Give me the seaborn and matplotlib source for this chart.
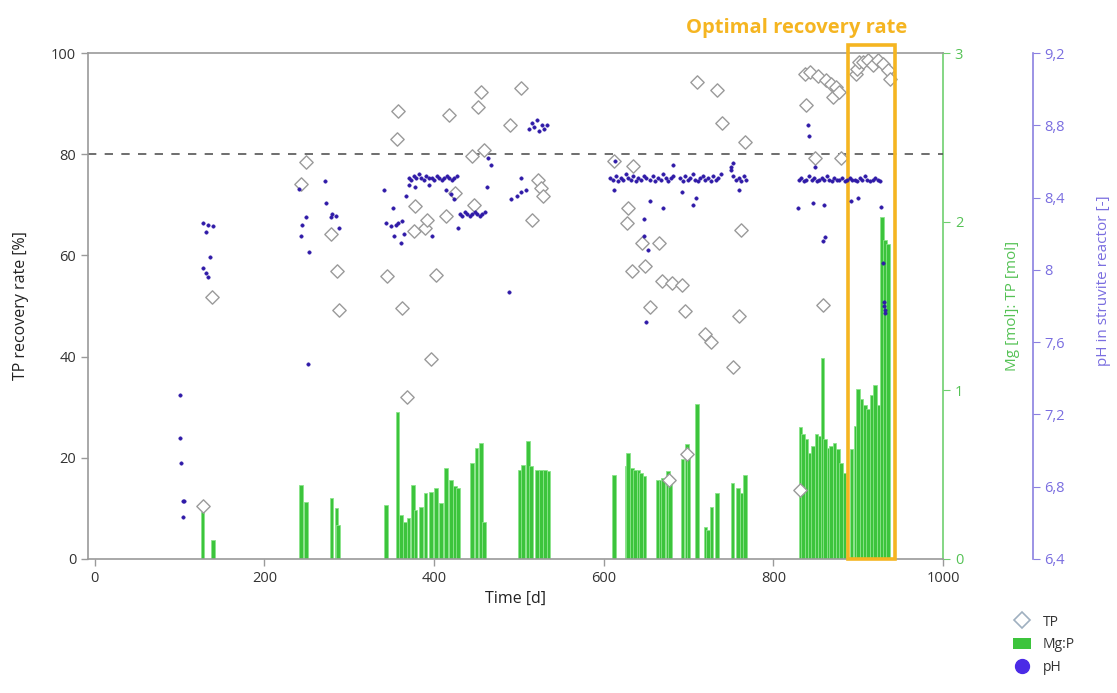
import numpy as np
import pandas as pd
import matplotlib
matplotlib.use("Agg")
import matplotlib.pyplot as plt
from matplotlib.patches import Rectangle
from matplotlib.lines import Line2D
from matplotlib.ticker import FixedLocator, FixedFormatter
import seaborn as sns

sns.set_style("white")
plt.rcParams['font.family'] = ['Open Sans', 'DejaVu Sans']

# TP recovery rate [%]
tp_day = [127, 138, 243, 249, 279, 285, 288, 344, 357, 356, 362, 368, 376, 378, 389, 392,
          396, 402, 414, 418, 425, 445, 447, 452, 455, 459, 489, 503, 515, 523, 526, 529,
          612, 627, 629, 633, 635, 645, 649, 655, 665, 669, 677, 680, 692, 696, 698, 710,
          720, 726, 733, 739, 752, 759, 762, 766, 832, 837, 839, 843, 849, 853, 859, 862,
          868, 870, 874, 877, 880, 897, 899, 901, 906, 912, 918, 923, 929, 935, 938]
tp_rate = [10.5, 51.7, 74.2, 78.5, 64.2, 56.9, 49.3, 55.9, 88.5, 83.1, 49.7, 32.0, 64.8, 69.8, 65.4, 67.0,
           39.6, 56.1, 67.8, 87.7, 72.4, 79.7, 70.0, 89.3, 92.2, 80.9, 85.7, 93.0, 67.0, 75.0, 73.4, 71.8,
           78.7, 66.4, 69.4, 56.9, 77.7, 62.4, 57.9, 49.9, 62.4, 54.9, 15.7, 54.5, 54.1, 49.1, 20.7, 94.2,
           44.5, 42.9, 92.6, 86.1, 38.0, 48.1, 65.0, 82.5, 13.7, 95.8, 89.7, 96.2, 79.3, 95.5, 50.1, 94.6,
           93.8, 91.3, 93.2, 92.2, 79.3, 95.8, 96.8, 98.2, 98.2, 98.6, 97.6, 98.6, 97.9, 96.6, 94.8]

# Mg [mol] : TP [mol]
mg_day = [127, 139, 243, 249, 279, 285, 287, 343, 357, 361, 366, 370, 375, 378, 385, 390,
          396, 402, 408, 414, 420, 425, 428, 445, 450, 455, 459, 501, 505, 511, 514, 521,
          526, 531, 535, 612, 627, 629, 633, 637, 641, 644, 648, 664, 667, 670, 676, 678,
          693, 698, 700, 710, 720, 723, 727, 734, 752, 758, 763, 767,
          832, 835, 839, 843, 847, 851, 855, 858, 861, 865, 868, 872, 876, 880, 884,
          892, 897, 900, 904, 908, 912, 916, 920, 924, 928, 932, 935]
mg_ratio = [0.28, 0.11, 0.44, 0.34, 0.36, 0.30, 0.20, 0.32, 0.87, 0.26, 0.22, 0.24, 0.44, 0.29, 0.31, 0.39,
            0.40, 0.42, 0.33, 0.54, 0.47, 0.43, 0.42, 0.57, 0.66, 0.69, 0.22, 0.53, 0.56, 0.70, 0.55, 0.53,
            0.53, 0.53, 0.52, 0.50, 0.55, 0.63, 0.54, 0.53, 0.53, 0.51, 0.49, 0.47, 0.47, 0.48, 0.52, 0.49,
            0.59, 0.68, 0.61, 0.92, 0.19, 0.17, 0.31, 0.39, 0.45, 0.42, 0.39, 0.50,
            0.78, 0.74, 0.71, 0.63, 0.67, 0.74, 0.73, 1.19, 0.71, 0.66, 0.67, 0.69, 0.65, 0.57, 0.51,
            0.65, 0.79, 1.01, 0.95, 0.91, 0.89, 0.97, 1.03, 0.91, 2.03, 1.89, 1.87]

# pH in struvite reactor
ph_day = [100, 101, 102, 104, 105, 104,
          127, 133, 139, 131, 136, 127, 131, 133,
          241, 249, 244, 243, 252, 271, 272, 280, 284, 278, 288, 251,
          341, 351, 343, 349, 355, 358, 362, 353, 361, 364, 367,
          370, 373, 376, 379, 382, 385, 388, 391, 394, 397, 400, 403, 406, 409, 412, 415, 418, 421, 424, 427,
          370, 378, 394, 414, 424, 420, 398,
          430, 433, 436, 439, 442, 445, 448, 451, 454, 457, 460, 428,
          464, 467, 462, 488, 491, 498, 502, 503, 508,
          512, 515, 518, 521, 524, 527, 530, 533,
          608, 611, 614, 617, 620, 623, 626, 629, 632, 635, 638, 641, 644, 647, 650,
          655, 658, 661, 664, 667, 670, 673, 676, 679, 682,
          690, 693, 696, 699, 702, 705, 708, 711, 714, 717, 720, 723, 726, 729, 732, 735, 738,
          750, 753, 756, 759, 762, 765, 768,
          612, 655, 670, 692, 705, 709, 647, 648, 652, 650, 760, 750, 753, 613, 682,
          830, 833, 836, 839, 842, 845, 848, 851, 854, 857, 860, 863, 866, 869, 872, 875, 878,
          881, 884, 887, 890, 893, 896, 899, 902, 905, 908, 911, 914, 917, 920, 923, 926,
          841, 842, 829, 847, 860, 859, 861, 892, 900, 927, 929, 931, 932, 930, 932, 849]
ph_val = [7.31, 7.07, 6.93, 6.72, 6.72, 6.63,
          8.26, 8.25, 8.24, 8.21, 8.07, 8.01, 7.98, 7.96,
          8.45, 8.29, 8.25, 8.19, 8.10, 8.49, 8.37, 8.31, 8.30, 8.29, 8.23, 7.48,
          8.44, 8.34, 8.26, 8.24, 8.25, 8.26, 8.27, 8.19, 8.15, 8.20, 8.41,
          8.51, 8.50, 8.52, 8.51, 8.53, 8.51, 8.50, 8.52, 8.51, 8.51, 8.50, 8.52, 8.51, 8.50, 8.51, 8.52, 8.51, 8.50, 8.51, 8.52,
          8.47, 8.46, 8.47, 8.44, 8.39, 8.42, 8.19,
          8.31, 8.30, 8.32, 8.31, 8.30, 8.31, 8.32, 8.31, 8.30, 8.31, 8.32, 8.23,
          8.62, 8.58, 8.46, 7.88, 8.39, 8.41, 8.43, 8.51, 8.44,
          8.78, 8.81, 8.79, 8.83, 8.77, 8.80, 8.78, 8.80,
          8.51, 8.50, 8.52, 8.49, 8.51, 8.50, 8.53, 8.51, 8.50, 8.52, 8.49, 8.51, 8.50, 8.52, 8.51,
          8.50, 8.52, 8.49, 8.51, 8.50, 8.53, 8.51, 8.49, 8.51, 8.52,
          8.51, 8.49, 8.52, 8.50, 8.51, 8.53, 8.50, 8.49, 8.51, 8.52, 8.50, 8.51, 8.49, 8.52, 8.50, 8.51, 8.53,
          8.55, 8.52, 8.50, 8.51, 8.49, 8.52, 8.50,
          8.44, 8.38, 8.34, 8.43, 8.36, 8.40, 8.28, 8.19, 8.11, 7.71, 8.44, 8.57, 8.59, 8.60, 8.58,
          8.50, 8.51, 8.49, 8.50, 8.52, 8.50, 8.51, 8.49, 8.50, 8.51, 8.50, 8.52, 8.50, 8.49, 8.51, 8.50, 8.50,
          8.51, 8.49, 8.50, 8.51, 8.50, 8.50, 8.49, 8.51, 8.50, 8.52, 8.50, 8.49, 8.50, 8.51, 8.50, 8.49,
          8.80, 8.74, 8.34, 8.37, 8.36, 8.16, 8.18, 8.38, 8.40, 8.35, 8.04, 7.80, 7.76, 7.82, 7.78, 8.57]

x_ticks = [0, 200, 400, 600, 800, 1000]
tp_ticks = [0, 20, 40, 60, 80, 100]
mg_ticks = [0, 1, 2, 3]
ph_ticks = [6.4, 6.8, 7.2, 7.6, 8.0, 8.4, 8.8, 9.2]
ph_labels = ["6,4", "6,8", "7,2", "7,6", "8", "8,4", "8,8", "9,2"]

optimal_start, optimal_end = 888, 944

tp_df = pd.DataFrame({"day": tp_day, "rate": tp_rate})
ph_df = pd.DataFrame({"day": ph_day, "ph": ph_val})

GREEN = "#3cc43c"
GREEN_AX = "#6fcf6f"
PURPLE = "#2f1aa8"
PURPLE_AX = "#8b80e0"
ORANGE = "#f5b521"

fig = plt.figure(figsize=(11.17, 6.93), dpi=100)
ax = fig.add_axes([0.0788, 0.1934, 0.7654, 0.7301])
ax2 = ax.twinx()
ax3 = ax.twinx()

# bars underneath, TP points above them, pH on top
ax2.set_zorder(1)
ax.set_zorder(2)
ax3.set_zorder(3)
ax.patch.set_visible(False)
ax3.patch.set_visible(False)

ax2.bar(mg_day, mg_ratio, width=4.4, color=GREEN, edgecolor="#8be48b", linewidth=0.6)
ax2.set_ylim(0, 3)

sns.scatterplot(data=tp_df, x="day", y="rate", ax=ax, marker="D", s=46,
                facecolor="white", edgecolor="#9a9a9a", linewidth=1.0, zorder=3)
ax.axhline(80, color="#555555", linestyle=(0, (5, 5)), linewidth=1.2, zorder=2)
ax.set_xlim(-8, 1000)
ax.set_ylim(0, 100)

sns.scatterplot(data=ph_df, x="day", y="ph", ax=ax3, s=6, color=PURPLE,
                edgecolor=PURPLE, linewidth=0.4)
ax3.set_ylim(6.4, 9.2)

# optimal window
ax.add_patch(Rectangle((optimal_start, 0), optimal_end - optimal_start, 101.5,
                       fill=False, edgecolor=ORANGE, linewidth=2.6, clip_on=False, zorder=5))
fig.text(797 / 1117, 1 - 28 / 693, "Optimal recovery rate", color=ORANGE,
         fontsize=14.5, fontweight="bold", ha="center", va="center")

# main axis styling
for s in ["left", "bottom", "top"]:
    ax.spines[s].set_color("#9a9a9a")
    ax.spines[s].set_linewidth(1.2)
ax.spines["right"].set_visible(False)
ax.set_xticks(x_ticks)
ax.set_yticks(tp_ticks)
ax.tick_params(axis="both", direction="out", length=5, width=1, color="#9a9a9a",
               labelsize=10.5, labelcolor="#333333", left=True, bottom=True)
ax.set_xlabel("Time [d]", fontsize=11.5, color="#222222", labelpad=4)
ax.set_ylabel("TP recovery rate [%]", fontsize=11.5, color="#222222", labelpad=16)

# Mg:P axis
for s in ["left", "bottom", "top"]:
    ax2.spines[s].set_visible(False)
ax2.spines["right"].set_color(GREEN_AX)
ax2.spines["right"].set_linewidth(1.2)
ax2.set_yticks(mg_ticks)
ax2.tick_params(axis="y", direction="out", length=5, color=GREEN_AX, labelsize=10.5,
                labelcolor="#55c255", right=True)
ax2.set_ylabel("Mg [mol]: TP [mol]", fontsize=11, color="#55c255", labelpad=30)

# pH axis
for s in ["left", "bottom", "top"]:
    ax3.spines[s].set_visible(False)
ax3.spines["right"].set_position(("axes", 1.105))
ax3.spines["right"].set_color(PURPLE_AX)
ax3.spines["right"].set_linewidth(1.2)
ax3.yaxis.set_major_locator(FixedLocator(ph_ticks))
ax3.yaxis.set_major_formatter(FixedFormatter(ph_labels))
ax3.tick_params(axis="y", direction="out", length=5, color=PURPLE_AX, labelsize=10.5,
                labelcolor="#7a6ee0", right=True)
ax3.set_ylabel("pH in struvite reactor [-]", fontsize=11, color="#7a6ee0", labelpad=22)
ax3.yaxis.label.set_y(0.55)
ax3.set_xlabel("")
ax2.set_xlabel("")

handles = [
    Line2D([], [], marker="D", linestyle="none", markersize=8, markerfacecolor="white",
           markeredgecolor="#9fb0c0", markeredgewidth=1.2, label="TP"),
    Rectangle((0, 0), 1, 1, facecolor=GREEN, edgecolor="none", label="Mg:P"),
    Line2D([], [], marker="o", linestyle="none", markersize=10, markerfacecolor="#4b2be6",
           markeredgecolor="#4b2be6", label="pH"),
]
leg = fig.legend(handles=handles, loc="upper left", bbox_to_anchor=(1000 / 1117, 1 - 602 / 693),
                 frameon=False, fontsize=10, handlelength=1.3, handleheight=0.9,
                 labelspacing=0.55, handletextpad=0.9)
for t in leg.get_texts():
    t.set_color("#333333")

fig.savefig("out.png", dpi=100)
